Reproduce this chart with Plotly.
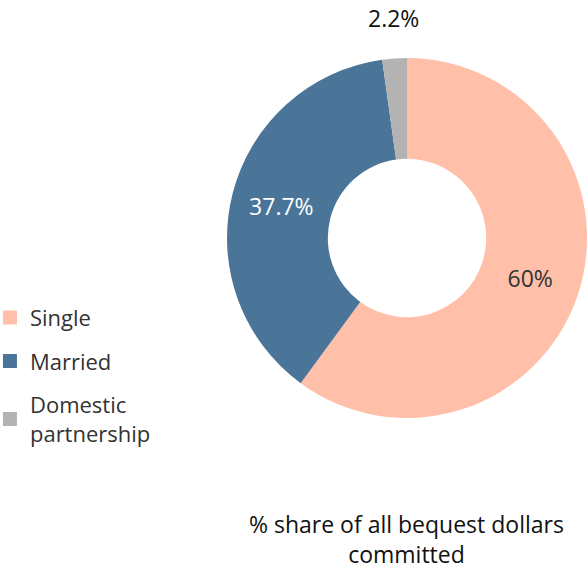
import plotly.graph_objects as go

categories = ["Single", "Married", "Domestic partnership"]
legend_labels = ["Single", "Married", "Domestic<br>partnership"]
values = [60.0, 37.7, 2.2]
label_text = ["60%", "37.7%", "2.2%"]
colors = ["#FFBFA8", "#4A7598", "#B3B3B3"]
text_colors = ["#333333", "#FFFFFF", "#111111"]
positions = ["inside", "inside", "none"]

FONT = "Open Sans"

fig = go.Figure()
fig.add_trace(go.Pie(
    labels=categories,
    values=values,
    text=label_text,
    textinfo="text",
    textposition=positions,
    insidetextorientation="horizontal",
    insidetextfont=dict(color=text_colors, size=23, family=FONT),
    marker=dict(colors=colors, line=dict(width=0)),
    hole=0.44,
    sort=False,
    direction="clockwise",
    rotation=0,
    domain=dict(x=[0.3861, 0.9983], y=[0.2680, 0.8984]),
    showlegend=False,
))

# legend entries (one per category, square swatches)
for name, col, cat in zip(legend_labels, colors, categories):
    fig.add_trace(go.Scatter(
        x=[None], y=[None], mode="markers", name=name,
        legendgroup=cat,
        marker=dict(symbol="square", size=14, color=col),
        hoverinfo="skip",
    ))

fig.update_layout(
    width=588, height=571,
    margin=dict(l=0, r=0, t=0, b=0, autoexpand=False),
    paper_bgcolor="#FFFFFF",
    plot_bgcolor="rgba(0,0,0,0)",
    xaxis=dict(visible=False),
    yaxis=dict(visible=False),
    font=dict(family=FONT, size=22, color="#333333"),
    legend=dict(
        x=-0.0171, y=0.4805, xanchor="left", yanchor="top",
        font=dict(size=22, family=FONT, color="#333333"),
        itemwidth=30, traceorder="grouped", tracegroupgap=12,
        bgcolor="rgba(0,0,0,0)",
    ),
    annotations=[
        dict(
            text=label_text[2],
            x=0.670, y=0.9685, xref="paper", yref="paper",
            xanchor="center", yanchor="middle", showarrow=False,
            font=dict(size=23, family=FONT, color="#111111"),
        ),
        dict(
            text="% share of all bequest dollars<br>committed",
            x=0.692, y=0.114, xref="paper", yref="paper",
            xanchor="center", yanchor="top", showarrow=False,
            font=dict(size=23, family=FONT, color="#111111"),
        ),
    ],
)

fig.write_html(
    "out.html",
    config={"displayModeBar": False},
    post_script="document.body.style.margin='0';document.body.style.overflow='hidden';",
)
